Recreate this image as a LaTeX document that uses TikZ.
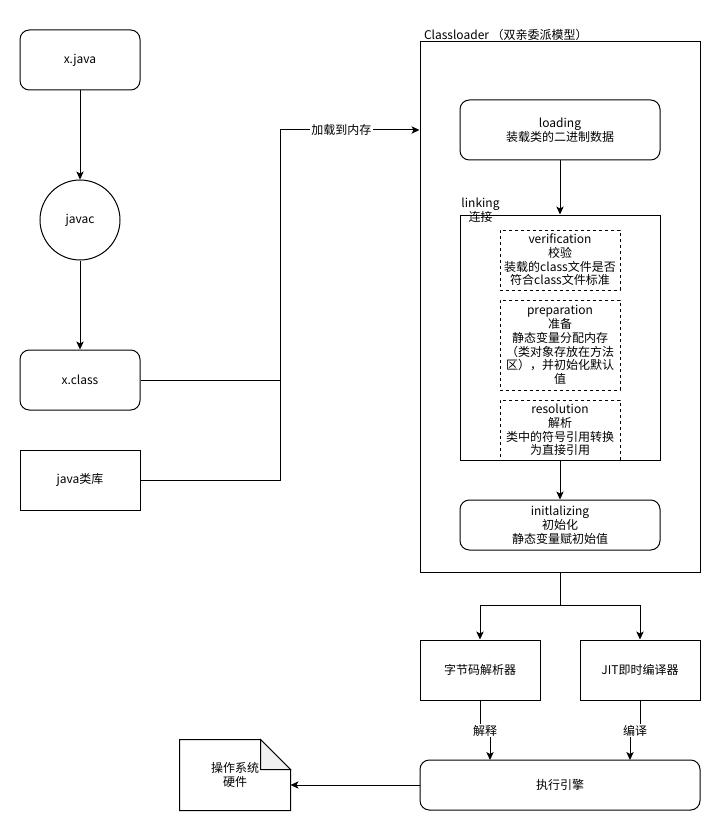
\documentclass[tikz,border=0pt]{standalone}
\usepackage{fontspec}
\setmainfont{Noto Sans CJK SC}
\usetikzlibrary{
    arrows.meta,
    calc,
    positioning
}

\begin{document}
\begin{tikzpicture}[x=0.75pt, y=-0.75pt, line width=0.75pt,
        >={Stealth[length=6pt,width=5.5pt,inset=1.5pt]},
        every node/.style={font=\fontsize{9}{10.3}\selectfont, align=center},
        box/.style={draw, minimum width=90pt, minimum height=45pt, inner sep=1pt},
        roundbox/.style={box, rounded corners=7pt},
        stagebox/.style={draw, dash pattern=on 2.5pt off 2pt, minimum width=90pt, inner sep=1pt},
        lbl/.style={fill=white, inner sep=1pt}]
    \useasboundingbox (0,0) rectangle (721,831);

    % source side
    \node[roundbox] (java) at (80,60) {x.java};
    \node[draw, circle, minimum size=60pt] (javac) at (80,220) {javac};
    \node[roundbox] (xclass) at (80,380) {x.class};
    \node[box] (lib) at (80,480) {java类库};

    % class loader
    \node[draw, minimum width=210pt, minimum height=397.5pt] (loader) at (560,307) {};
    \node[anchor=west, inner sep=0pt] at ($(loader.north west)+(4,-7)$) {Classloader （双亲委派模型）};
    \node[roundbox, minimum width=150pt] (loading) at (560,130) {loading\\装载类的二进制数据};
    \node[draw, minimum width=150pt, minimum height=183.75pt] (linking) at (560,337.5) {};
    \node[inner sep=0pt] at ($(linking.north west)+(21,-4)$) {linking\\连接};
    \node[stagebox, minimum height=45pt] (verif) at (560,260) {verification\\校验\\装载的class文件是否\\符合class文件标准};
    \node[stagebox, minimum height=67.5pt] (prep) at (560,345) {preparation\\准备\\静态变量分配内存\\（类对象存放在方法\\区），并初始化默认\\值};
    \node[stagebox, minimum height=45pt] (resol) at (560,430) {resolution\\解析\\类中的符号引用转换\\为直接引用};
    \node[roundbox, minimum width=150pt, minimum height=37.5pt] (init) at (560,525) {initlalizing\\初始化\\静态变量赋初始值};

    % execution
    \coordinate (split) at (560,605);
    \node[box] (bytecode) at (480,670) {字节码解析器};
    \node[box] (jit) at (640,670) {JIT即时编译器};
    \node[roundbox, minimum width=210pt, minimum height=37.5pt] (engine) at (560,785) {执行引擎};
    \coordinate (interpIn) at (490,760);
    \coordinate (compileIn) at (630,760);

    % os / hardware note
    \node[minimum width=82.5pt, minimum height=52.5pt, inner sep=0pt] (os) at (235,775) {操作系统\\硬件};
    \draw (os.north west) -- ($(os.north east)+(-30,0)$) -- ($(os.north east)+(0,30)$)
        -- (os.south east) -- (os.south west) -- cycle;
    \draw[fill=gray!12] ($(os.north east)+(-30,0)$) -- ($(os.north east)+(-30,30)$)
        -- ($(os.north east)+(0,30)$) -- cycle;

    % connectors
    \draw[->] (java) -- (javac);
    \draw[->] (javac) -- (xclass);
    \coordinate (bend) at (280,130);
    \draw (xclass.east) -- (xclass.east -| bend);
    \draw[->] (lib.east) -| (bend) -- node[lbl, pos=0.44] {加载到内存} (bend -| loader.west);
    \draw[->] (loading) -- (linking);
    \draw[->] (linking) -- (init);
    \draw[->] (loader.south) -- (split) -| (bytecode.north);
    \draw[->] (split) -| (jit.north);
    \draw[->] (bytecode.south) -- ++(0,30) -- node[lbl] {解释} ++(10,0) -- (interpIn);
    \draw[->] (jit.south) -- ++(0,30) -- node[lbl] {编译} ++(-10,0) -- (compileIn);
    \draw[->] (engine.west) -- (engine.west -| os.east);
\end{tikzpicture}
\end{document}
